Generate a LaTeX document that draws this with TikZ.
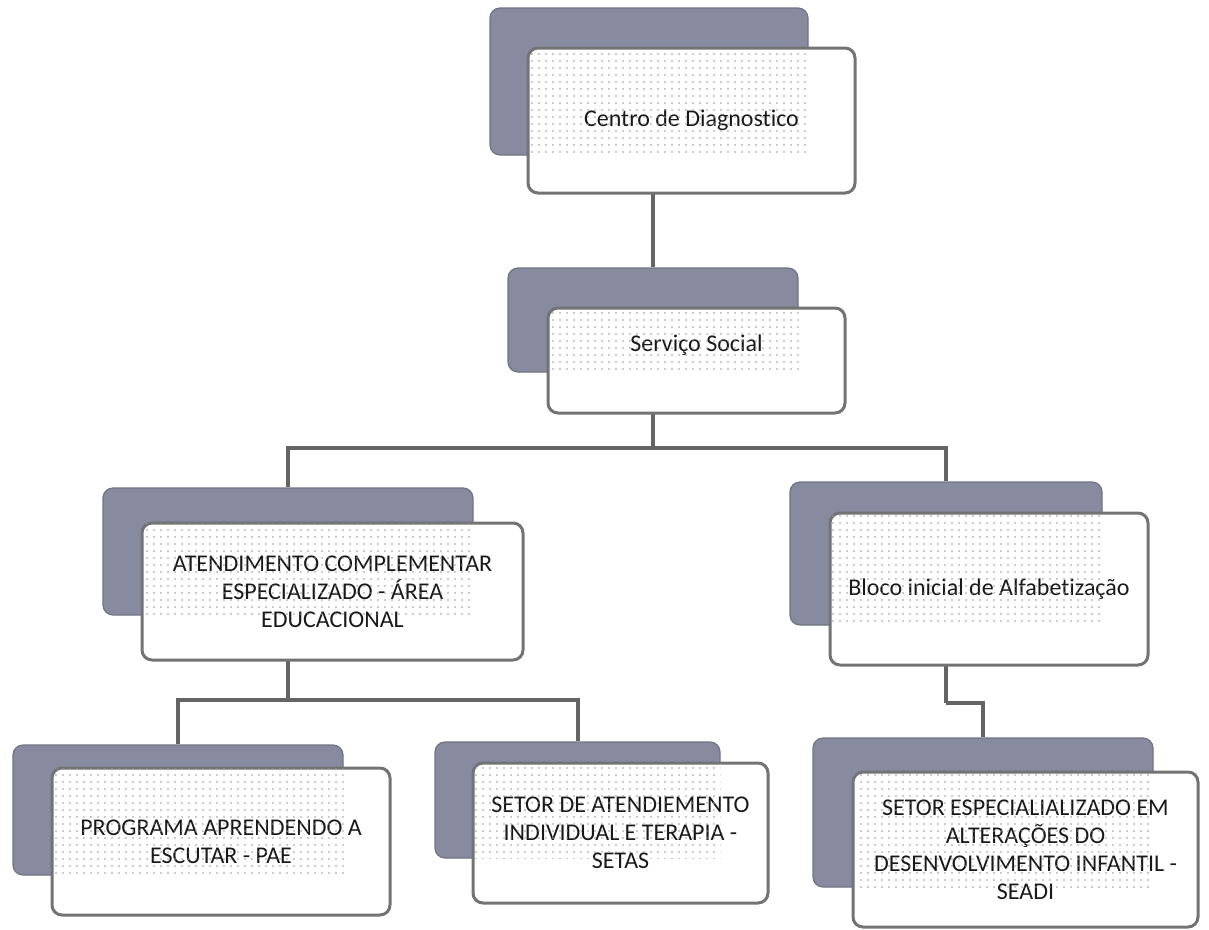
\documentclass[tikz,border=0pt]{standalone}
\usepackage{fontspec}
\setmainfont[Ligatures={NoCommon}]{Carlito}
\usepackage{tikz}
\usetikzlibrary{patterns.meta,calc}
\definecolor{shadeblue}{RGB}{136,139,160}
\definecolor{shadeedge}{RGB}{112,115,132}
\definecolor{frameedge}{RGB}{115,115,115}
\definecolor{linkgray}{RGB}{100,100,100}

\begin{document}
\begin{tikzpicture}[x=1pt, y=-1pt,
  backbox/.style={draw=shadeedge, line width=1.2pt, fill=shadeblue, rounded corners=10pt, inner sep=0pt},
  frontbox/.style={draw=frameedge, line width=3pt, fill=white, rounded corners=10pt, align=center, inner sep=0pt,
    font=\fontsize{24}{28}\selectfont, text=black!90},
  dotted area/.style={pattern={Dots[distance=7pt, radius=0.85pt]}, pattern color=gray!80},
  link/.style={draw=linkgray, line width=4pt}]

\useasboundingbox (0,0) rectangle (1209,929);

% ==========================================
% Shadow boxes (behind)
% ==========================================
\node[backbox, minimum width=318pt, minimum height=147pt] (b1) at (649,81.5) {};
\node[backbox, minimum width=290pt, minimum height=104pt] (b2) at (653,320) {};
\node[backbox, minimum width=370pt, minimum height=127pt] (b3) at (288,551.5) {};
\node[backbox, minimum width=312pt, minimum height=143pt] (b4) at (946,553.5) {};
\node[backbox, minimum width=330pt, minimum height=130pt] (b5) at (178,810) {};
\node[backbox, minimum width=285pt, minimum height=116pt] (b6) at (577.5,800) {};
\node[backbox, minimum width=340pt, minimum height=149pt] (b7) at (983,812.5) {};

% ==========================================
% Connectors
% ==========================================
\draw[link] (b2.north) -- (b2.north |- b1.south) -- ++(0,38);
\draw[link] (b2.north |- 0,413) -- ++(0,35) coordinate (bus1);
\draw[link] (b3.north) |- (bus1) -| (b4.north);
\draw[link] (b3.north |- 0,660) -- ++(0,40) coordinate (bus2);
\draw[link] (b5.north) |- (bus2) -| (b6.north);
\draw[link] (b4.north |- 0,665) -- ++(0,38) coordinate (jog);
\draw[link] (jog) -| (b7.north);

% ==========================================
% Front boxes with labels
% ==========================================
\node[frontbox, minimum width=327pt, minimum height=145pt] (f1) at (691.5,120.5) {Centro de Diagnostico};
\node[frontbox, minimum width=297pt, minimum height=105pt, text depth=34pt] (f2) at (696.5,360.5) {Serviço Social};
\node[frontbox, minimum width=381pt, minimum height=137pt] (f3) at (332.5,591.5)
  {ATENDIMENTO COMPLEMENTAR\\ESPECIALIZADO - ÁREA\\EDUCACIONAL};
\node[frontbox, minimum width=318pt, minimum height=152pt] (f4) at (989,589) {Bloco inicial de Alfabetização};
\node[frontbox, minimum width=338pt, minimum height=147pt] (f5) at (221,841.5) {PROGRAMA APRENDENDO A\\ESCUTAR - PAE};
\node[frontbox, minimum width=295pt, minimum height=140pt] (f6) at (620.5,833)
  {SETOR DE ATENDIEMENTO\\INDIVIDUAL E TERAPIA -\\SETAS};
\node[frontbox, minimum width=345pt, minimum height=155pt] (f7) at (1025.5,849.5)
  {SETOR ESPECIALIALIZADO EM\\ALTERAÇÕES DO\\DESENVOLVIMENTO INFANTIL -\\SEADI};

% ==========================================
% Dotted overlap (shadow seen through the front box)
% ==========================================
\foreach \k in {1,...,7}{
  \fill[dotted area] ($(f\k.north west)+(2,2)$) rectangle (b\k.south east);
}

\end{tikzpicture}
\end{document}
